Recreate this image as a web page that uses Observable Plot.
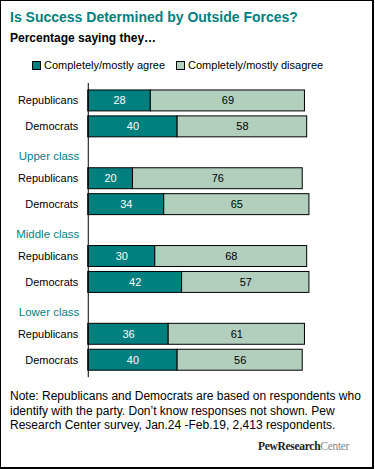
<!DOCTYPE html>
<html>
<head>
<meta charset="utf-8">
<script src="https://cdn.jsdelivr.net/npm/d3@7"></script>
<script src="https://cdn.jsdelivr.net/npm/@observablehq/plot@0.6"></script>
<style>
  html, body { margin: 0; padding: 0; background: #fff; }
  #frame { position: relative; width: 374px; height: 469px; box-sizing: border-box;
    border-left: 1px solid #000; border-top: 1px solid #000; border-right: 2px solid #000; border-bottom: 2px solid #000;
    font-family: "Liberation Sans", Arial, sans-serif; overflow: hidden; }
  #title { position: absolute; left: 9px; top: 8px; font-size: 14px; font-weight: bold; color: #007f7f; white-space: nowrap; }
  #subtitle { position: absolute; left: 9px; top: 30px; font-size: 12px; font-weight: bold; color: #000; white-space: nowrap; }
  #legend { position: absolute; left: 31px; top: 58px; font-size: 11px; color: #000; white-space: nowrap; display: flex; align-items: center; }
  #legend .sw { display: inline-block; width: 7px; height: 7px; border: 1px solid #000; margin-right: 3px; }
  #legend .item { display: flex; align-items: center; margin-right: 11px; }
  #chart { position: absolute; left: 0; top: 75px; }
  #note { position: absolute; left: 9px; top: 388px; width: 362px; font-size: 12px; line-height: 14.5px; color: #000; }
  #logo { position: absolute; left: 257px; top: 439px; font-family: "Liberation Serif", "DejaVu Serif", serif; font-size: 11.5px; letter-spacing: -0.3px; white-space: nowrap; }
  #logo b { color: #222; }
  #logo span { color: #888; }
</style>
</head>
<body>
<div id="frame">
  <div id="title">Is Success Determined by Outside Forces?</div>
  <div id="subtitle">Percentage saying they…</div>
  <div id="legend"></div>
  <div id="chart"></div>
  <div id="note">Note: Republicans and Democrats are based on respondents who identify with the party. Don’t know responses not shown. Pew Research Center survey, Jan.24 -Feb.19, 2,413 respondents.</div>
  <div id="logo"><b>PewResearch</b><span>Center</span></div>
</div>
<script>
const groups = ["", "Upper class", "Middle class", "Lower class"];
const parties = ["Republicans", "Democrats"];
const agree =    [28, 40, 20, 34, 30, 42, 36, 40];
const disagree = [69, 58, 76, 65, 68, 57, 61, 56];
const seriesNames = ["Completely/mostly agree", "Completely/mostly disagree"];
const colors = ["#007f7f", "#b2cebd"];

const rowKeys = [];
const headers = [];
const rows = [];
groups.forEach((g, gi) => {
  if (g) { const k = `h${gi}`; rowKeys.push(k); headers.push({key: k, label: g}); }
  parties.forEach((p, pi) => {
    const k = `r${gi}-${pi}`;
    rowKeys.push(k);
    const i = gi * 2 + pi;
    rows.push({key: k, party: p, agree: agree[i], disagree: disagree[i]});
  });
});

const segs = [];
rows.forEach(r => {
  segs.push({key: r.key, x1: 0, x2: r.agree, value: r.agree, s: 0});
  segs.push({key: r.key, x1: r.agree, x2: r.agree + r.disagree, value: r.disagree, s: 1});
});

const leg = document.getElementById("legend");
seriesNames.forEach((n, i) => {
  const it = document.createElement("div");
  it.className = "item";
  it.innerHTML = `<span class="sw" style="background:${colors[i]}"></span>${n}`;
  leg.appendChild(it);
});

const chart = Plot.plot({
  width: 372,
  height: 305,
  marginLeft: 87,
  marginRight: 61,
  marginTop: 7,
  marginBottom: 3,
  x: {domain: [0, 100], axis: null},
  y: {domain: rowKeys, axis: null, paddingInner: 0.18, paddingOuter: 0.09},
  style: {fontFamily: "'Liberation Sans', Arial, sans-serif", fontSize: "11px", background: "transparent"},
  marks: [
    Plot.barX(segs, {y: "key", x1: "x1", x2: "x2", fill: d => colors[d.s], stroke: "#000", strokeWidth: 1}),
    Plot.text(segs.filter(d => d.s === 0), {y: "key", x: d => (d.x1 + d.x2) / 2, text: d => String(d.value), fill: "#fff", fontSize: 11}),
    Plot.text(segs.filter(d => d.s === 1), {y: "key", x: d => (d.x1 + d.x2) / 2, text: d => String(d.value), fill: "#000", fontSize: 11}),
    Plot.text(rows, {y: "key", x: 0, dx: -10, text: "party", textAnchor: "end", fill: "#000", fontSize: 11}),
    Plot.text(headers, {y: "key", x: 0, dx: -9, dy: 4, text: "label", textAnchor: "end", fill: "#007f7f", fontSize: 11.5}),
    Plot.ruleX([0], {stroke: "#000", strokeWidth: 1})
  ]
});
document.getElementById("chart").appendChild(chart);
</script>
</body>
</html>
